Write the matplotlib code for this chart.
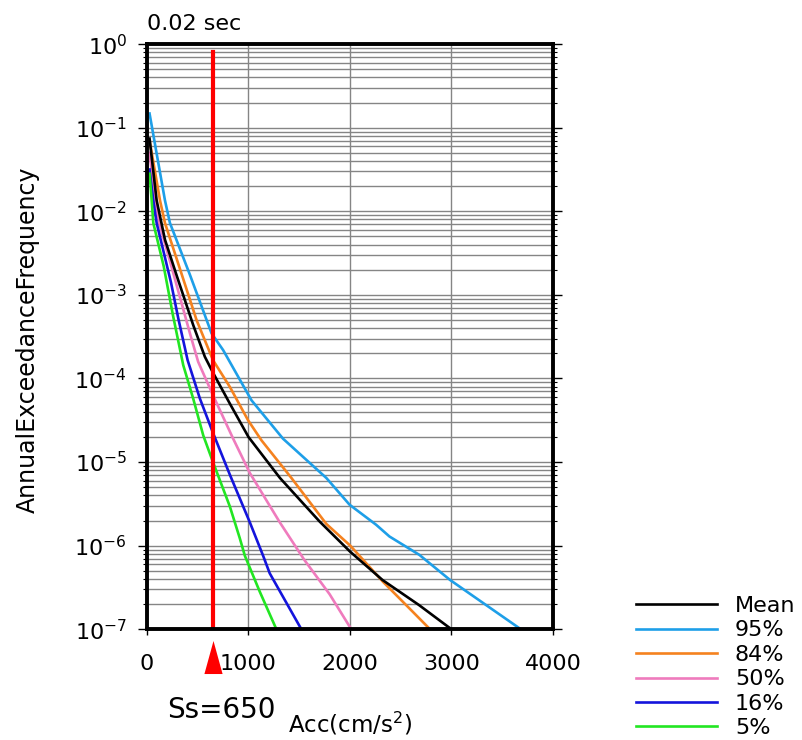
import numpy as np
import matplotlib
matplotlib.use("Agg")
import matplotlib.pyplot as plt
from matplotlib.ticker import LogLocator, NullFormatter
from matplotlib.transforms import blended_transform_factory

plt.rcParams['font.family'] = ['DejaVu Sans']

# ---- data (acceleration in cm/s^2, log10 of annual exceedance frequency) ----
acc_mean = [25, 95, 177, 290, 455, 570, 650, 816, 1000, 1310, 1700, 2000, 2320, 2680, 3000]
lg_mean = [-1.13, -1.87, -2.34, -2.76, -3.36, -3.74, -3.93, -4.30, -4.70, -5.19, -5.71, -6.07, -6.41, -6.71, -7.0]

acc_95 = [25, 177, 226, 423, 636, 750, 1029, 1340, 1767, 1996, 2258, 2389, 2684, 2986, 3684]
lg_95 = [-0.83, -1.87, -2.14, -2.76, -3.46, -3.66, -4.26, -4.72, -5.19, -5.51, -5.75, -5.89, -6.11, -6.41, -7.0]

acc_84 = [25, 128, 177, 341, 488, 650, 816, 996, 1128, 1423, 1767, 2003, 2324, 2553, 2789]
lg_84 = [-1.15, -1.87, -2.14, -2.75, -3.30, -3.78, -4.10, -4.50, -4.74, -5.19, -5.74, -6.00, -6.43, -6.71, -7.0]

acc_50 = [25, 80, 120, 259, 423, 504, 650, 849, 1013, 1308, 1550, 1799, 2013]
lg_50 = [-1.30, -1.87, -2.14, -2.74, -3.46, -3.80, -4.20, -4.72, -5.13, -5.72, -6.17, -6.58, -7.0]

acc_16 = [25, 62, 95, 236, 308, 400, 521, 650, 816, 1013, 1144, 1209, 1521]
lg_16 = [-1.50, -1.87, -2.14, -2.85, -3.28, -3.78, -4.24, -4.65, -5.15, -5.72, -6.12, -6.33, -7.0]

acc_5 = [25, 46, 62, 165, 255, 357, 455, 554, 650, 816, 914, 964, 1111, 1275]
lg_5 = [-1.55, -1.87, -2.14, -2.66, -3.24, -3.84, -4.24, -4.68, -5.00, -5.53, -5.91, -6.12, -6.55, -7.0]

series_labels = ['Mean', '95%', '84%', '50%', '16%', '5%']
series_colors = ['#000000', '#1e9fe8', '#f5821f', '#ef7bbd', '#1414dc', '#22e622']

ss = 650
ss_top = 0.8
x_ticks = [0, 1000, 2000, 3000, 4000]

# ---- figure ----
fig = plt.figure(figsize=(8.02, 7.4), dpi=100)
ax = fig.add_axes([0.1833, 0.1496, 0.5062, 0.7908])

series = [(acc_mean, lg_mean), (acc_95, lg_95), (acc_84, lg_84),
          (acc_50, lg_50), (acc_16, lg_16), (acc_5, lg_5)]
handles = []
for (xs, lg), lab, col in zip(series, series_labels, series_colors):
    h, = ax.plot(xs, 10.0 ** np.array(lg), color=col, lw=1.9, label=lab,
                 solid_joinstyle='round',
                 zorder=3 if lab != 'Mean' else 3.5)
    handles.append(h)

ax.plot([ss, ss], [1e-7, ss_top], color='red', lw=3, zorder=5)

ax.set_yscale('log')
ax.set_xlim(0, 4000)
ax.set_ylim(1e-7, 1)
ax.set_xticks(x_ticks)
ax.yaxis.set_major_locator(LogLocator(base=10, numticks=20))
ax.yaxis.set_minor_locator(LogLocator(base=10, subs=np.arange(2, 10), numticks=20))
ax.yaxis.set_minor_formatter(NullFormatter())

ax.set_axisbelow(True)
ax.grid(True, which='both', axis='y', color='#858585', lw=1.0)
ax.grid(True, which='major', axis='x', color='#858585', lw=1.0)

for sp in ax.spines.values():
    sp.set_linewidth(2.8)
    sp.set_zorder(6)

ax.tick_params(axis='y', which='major', left=True, right=True, direction='out',
               length=6.5, width=1, labelsize=16, pad=8)
ax.tick_params(axis='y', which='minor', left=True, right=True, direction='out',
               length=3, width=0.8)
ax.tick_params(axis='x', which='major', direction='out', length=4, width=1,
               labelsize=16, pad=14)

ax.set_title('0.02 sec', loc='left', fontsize=16, pad=10)

ax.set_ylabel('AnnualExceedanceFrequency', fontsize=17)
ax.yaxis.set_label_coords(-0.265, 0.494)

ax.set_xlabel('Acc(cm/s$^2$)', fontsize=16.5, va='baseline')
ax.xaxis.set_label_coords(0.5, -0.177)

trans = blended_transform_factory(ax.transData, ax.transAxes)
tri = [(-0.55, -1.0), (0.55, -1.0), (0.0, 1.0)]
ax.plot([ss], [-0.0465], marker=tri, ms=23.8, color='red', mew=0,
        transform=trans, clip_on=False, zorder=7)
ax.text(ss + 80, -0.1516, 'Ss=%d' % ss, transform=trans, fontsize=20,
        ha='center', va='baseline')

fig.legend(handles, series_labels, loc='upper left',
           bbox_to_anchor=(636 / 802, 1 - 596 / 740), bbox_transform=fig.transFigure,
           frameon=False, borderpad=0, borderaxespad=0, handlelength=3.65,
           handletextpad=0.8, labelspacing=0.2, fontsize=16)

fig.savefig('out.png', dpi=100)
